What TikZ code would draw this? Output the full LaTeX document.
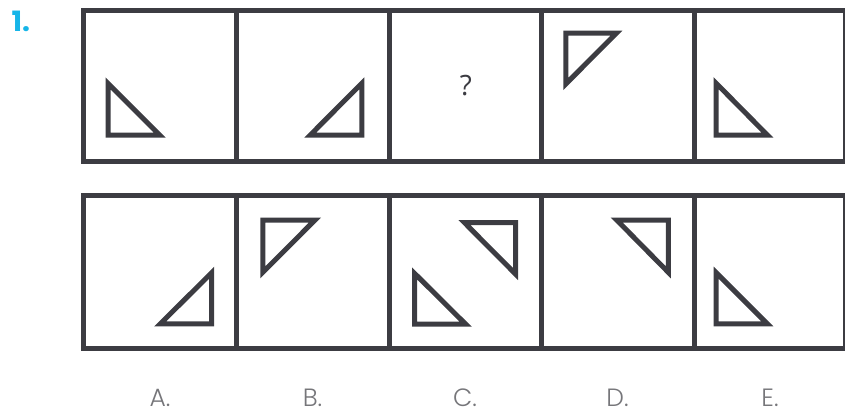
\documentclass[tikz,border=0pt]{standalone}
\usepackage{fontspec}
\setmainfont{Poppins}
\newfontfamily\lightfont{Poppins Light}
\newfontfamily\qfont{Open Sans}
\usepackage{tikz}
\usetikzlibrary{positioning}
\definecolor{framegray}{RGB}{60,60,66}
\definecolor{numcyan}{RGB}{22,181,232}
\definecolor{labelgray}{RGB}{118,118,122}

\begin{document}
\begin{tikzpicture}[x=1pt,y=-1pt,line width=5pt,
  tri/.style={draw=framegray,line width=5pt}]
  \useasboundingbox (0,0) rectangle (845,410);
  % question row
  \draw[framegray] (83.5,10) rectangle (845.5,161.5);
  \draw[framegray] (236,10) -- (236,161.5) (389,10) -- (389,161.5)
    (541,10) -- (541,161.5) (694,10) -- (694,161.5);
  \draw[tri] (108,83.3) -- (108,135) -- (159.7,135) -- cycle;
  \draw[tri] (361.8,83.3) -- (361.8,135) -- (310.3,135) -- cycle;
  \draw[tri] (565.8,84) -- (565.8,33.2) -- (616.3,33.2) -- cycle;
  \draw[tri] (716.2,83.3) -- (716.2,135) -- (767.3,135) -- cycle;
  \node[font=\fontsize{28}{28}\selectfont\bfseries,color=numcyan,anchor=base west,inner sep=0]
    (qnum) at (9,31) {1.};
  \node[font=\qfont\fontsize{28}{28}\selectfont,color=framegray,anchor=base,inner sep=0]
    (qmark) at (466,95) {?};
  % answer row
  \draw[framegray] (83.5,195.5) rectangle (845.5,348.5);
  \draw[framegray] (236,195.5) -- (236,348.5) (389,195.5) -- (389,348.5)
    (541,195.5) -- (541,348.5) (694,195.5) -- (694,348.5);
  \draw[tri] (211.7,272.7) -- (211.7,323.8) -- (160.3,323.8) -- cycle;
  \draw[tri] (262.8,272.3) -- (262.8,220) -- (315,220) -- cycle;
  \draw[tri] (414.5,273.3) -- (414.5,324.2) -- (465.7,324.2) -- cycle;
  \draw[tri] (464.3,222.5) -- (515.5,222.5) -- (515.5,274) -- cycle;
  \draw[tri] (616.7,220) -- (668.3,220) -- (668.3,272.3) -- cycle;
  \draw[tri] (716.2,272.7) -- (716.2,323.8) -- (767.3,323.8) -- cycle;
  \foreach \opt/\cx in {A/160,B/312.5,C/465,D/617.5,E/770}
    \node[font=\lightfont\fontsize{25}{25}\selectfont,color=labelgray,anchor=base,inner sep=0]
      (lbl\opt) at (\cx,406) {\opt.};
\end{tikzpicture}
\end{document}
